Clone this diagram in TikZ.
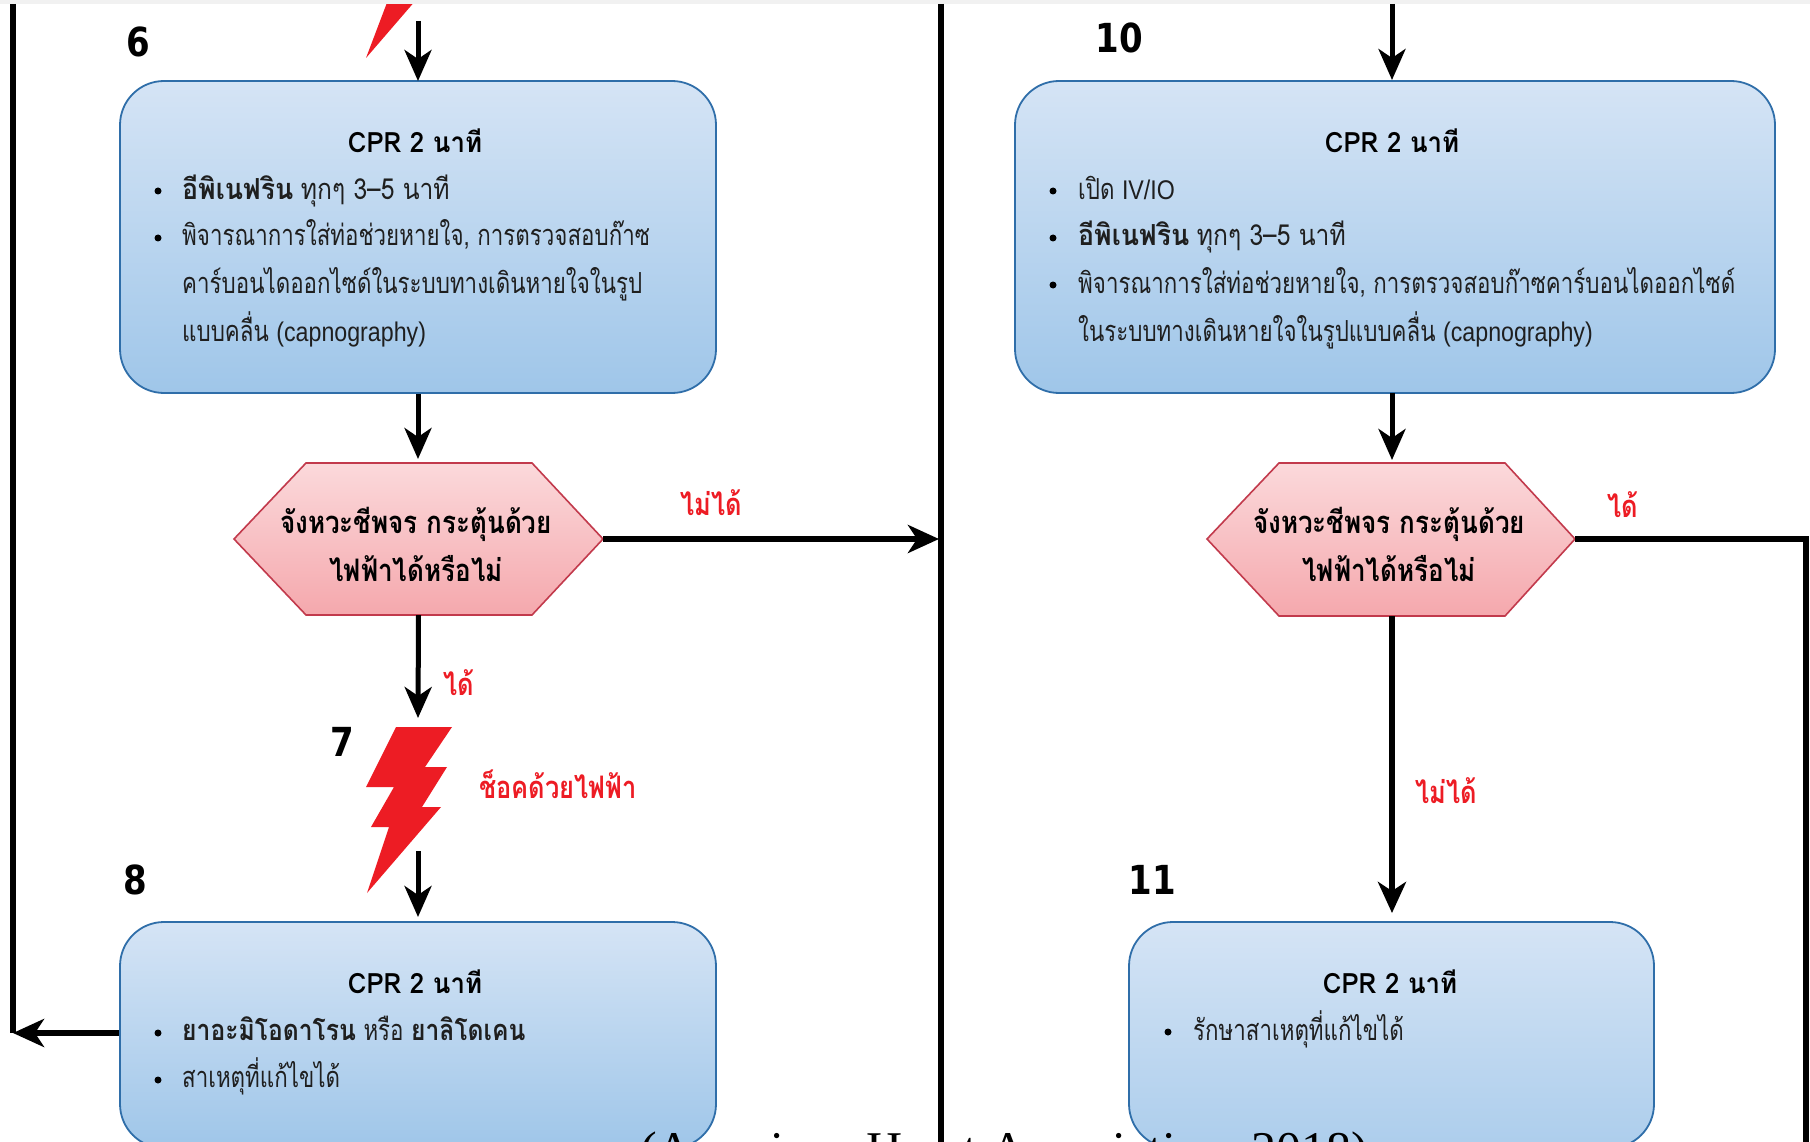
\documentclass[tikz,border=0pt]{standalone}
\usepackage{fontspec}
\usetikzlibrary{arrows.meta,shapes.misc}
\setmainfont{Liberation Sans}
\newfontfamily\bodyfont[Script=Thai,FakeStretch=0.77]{Loma}
\newfontfamily\inlinefont[Script=Thai,FakeStretch=0.92]{Loma}
\newfontfamily\drugfont[Script=Thai,FakeStretch=0.85]{Loma}
\newfontfamily\tailfont[Script=Thai,FakeStretch=0.85]{Loma}
\newfontfamily\titlefont[Script=Thai,FakeStretch=0.92]{Loma}
\newfontfamily\hexfont[Script=Thai,FakeStretch=0.84]{Loma}
\newfontfamily\redfont[Script=Thai,FakeStretch=0.82]{Loma}
\newfontfamily\latfont[FakeStretch=0.86]{Liberation Sans}
\newfontfamily\numfont[FakeStretch=0.85]{DejaVu Sans}
\newfontfamily\serifcite{Liberation Serif}
\newcommand{\lat}[1]{{\fontsize{27}{30}\selectfont\latfont #1}}
\newcommand{\bb}[1]{{\inlinefont\bfseries #1}}
\newcommand{\bd}[1]{{\drugfont\bfseries #1}}
\newcommand{\tl}[1]{{\tailfont #1}}
\tikzset{
  x=1pt,y=-1pt,
  card/.style={rounded corners=44pt,draw=cardedge,line width=1.8pt,top color=cardtop,bottom color=cardbot,minimum width=#1,inner sep=0pt},
  hexfill/.style={draw=hexedge,line width=1.6pt,top color=hextop,bottom color=hexbot},
  anchorbox/.style={inner sep=0pt,minimum width=369pt,minimum height=152pt},
  body/.style={anchor=base west,inner sep=0pt,font=\fontsize{29}{30}\selectfont\bodyfont,text=black!88},
  dot/.style={circle,fill=black,inner sep=0pt,minimum size=7pt},
  title/.style={anchor=base,inner sep=0pt,font=\fontsize{28}{30}\selectfont\titlefont\bfseries},
  hextext/.style={anchor=base,inner sep=0pt,font=\fontsize{31}{32}\selectfont\hexfont\bfseries},
  redlabel/.style={anchor=base,inner sep=0pt,text=bolt,font=\fontsize{31}{32}\selectfont\redfont\bfseries},
  stepnum/.style={anchor=center,inner sep=0pt,font=\fontsize{40}{44}\selectfont\numfont\bfseries},
  flow/.style={line width=5pt,-{Stealth[length=31pt,width=27pt,inset=9pt]}},
  flowbig/.style={line width=5.8pt,-{Stealth[length=31pt,width=28pt,inset=9pt]}},
  rail/.style={line width=5.8pt},
  boltshape/.style={fill=bolt,draw=none}
}
\definecolor{cardtop}{HTML}{D5E4F5}
\definecolor{cardbot}{HTML}{9FC6E9}
\definecolor{cardedge}{HTML}{2F6EA9}
\definecolor{hextop}{HTML}{FBD9DB}
\definecolor{hexbot}{HTML}{F5A8AD}
\definecolor{hexedge}{HTML}{C23A4C}
\definecolor{bolt}{HTML}{ED1C24}
\definecolor{band}{HTML}{F1F1F1}
\begin{document}
\begin{tikzpicture}
\useasboundingbox (0,0) rectangle (1810,1142);
\clip (0,0) rectangle (1810,1142);
\fill[white] (0,0) rectangle (1810,1142);

% upper bolt, cut by the page top
\fill[boltshape] (388,0) -- (416,0) -- (366,58) -- cycle;
\fill[band] (0,0) rectangle (1810,4);

% boxes
\node[card=596pt,minimum height=312pt] (b6) at (418,237) {};
\node[card=760pt,minimum height=312pt] (b10) at (1395,237) {};
\node[card=596pt,minimum height=226pt] (b8) at (418,1035) {};
\node[card=525pt,minimum height=226pt,bottom color=cardbot!75!cardtop] (b11) at (1391.5,1035) {};

% decision hexagons
\path[hexfill] (234,539) -- (306,463) -- (532,463) -- (603,539) -- (532,615) -- (306,615) -- cycle;
\node[anchorbox] (h6) at (418.5,539) {};
\path[hexfill] (1207,539) -- (1279,463) -- (1505,463) -- (1575,539) -- (1505,616) -- (1279,616) -- cycle;
\node[anchorbox,minimum width=368pt] (h10) at (1391,539) {};

% bolt 7
\fill[boltshape] (396,727) -- (452,727) -- (425,767) -- (447,767) -- (422,807) -- (441,807) -- (367,893) -- (389,827) -- (371,827) -- (394,787) -- (366,787) -- cycle;
\node[inner sep=0pt] (b7) at (418,790) {};

% free ends
\coordinate (t6) at (418,21);
\coordinate (t10) at (1392,4);
\coordinate (r7) at (418,851);
\coordinate (ln) at (13,1033);
\coordinate (lt) at (13,4);
\coordinate (mt) at (941,4);
\coordinate (mb) at (941,1142);
\coordinate (mh) at (939,539);
\coordinate (rc) at (1806,539);
\coordinate (rb) at (1806,1142);
\coordinate (s7) at (418,718);
\coordinate (l6t) at (418,81);
\coordinate (l6h) at (418,459);
\coordinate (e8) at (418,917);
\coordinate (t10e) at (1392,80);
\coordinate (b10b) at (1392,393);
\coordinate (h10t) at (1392,460);
\coordinate (h10b) at (1392,616);
\coordinate (e11) at (1392,913);

% rails
\draw[rail] (lt) -- (ln);
\draw[rail] (mt) -- (mb);
\draw[rail,line join=miter] (h10.east) -- (rc) -- (rb);

% connectors
\draw[flow] (t6) -- (l6t);
\draw[flow] (b6.south) -- (l6h);
\draw[flow] (h6.south) -- (s7);
\draw[flow] (r7) -- (e8);
\draw[flowbig] (h6.east) -- (mh);
\draw[flowbig] (b8.west |- ln) -- (ln);
\draw[flow] (t10) -- (t10e);
\draw[flow] (b10b) -- (h10t);
\draw[flowbig] (h10b) -- (e11);

% step numbers
\node[stepnum] (n6) at (138,42) {6};
\node[stepnum] (n10) at (1119,38) {10};
\node[stepnum] (n7) at (342,742) {7};
\node[stepnum] (n8) at (135,880) {8};
\node[stepnum] (n11) at (1152,880) {11};

% box 6
\node[title] (b6t) at (415,153) {CPR 2 นาที};
\node[dot] (b6d1) at (158,191) {};
\node[body] (b6a) at (182,200) {\bb{อีพิเนฟริน} \tl{ทุกๆ 3–5 นาที}};
\node[dot] (b6d2) at (158,238) {};
\node[body] (b6b) at (182,246) {พิจารณาการใส่ท่อช่วยหายใจ, การตรวจสอบก๊าซ};
\node[body] (b6c) at (182,293) {คาร์บอนไดออกไซด์ในระบบทางเดินหายใจในรูป};
\node[body] (b6e) at (182,341) {แบบคลื่น \lat{(capnography)}};

% box 10
\node[title] (b10t) at (1392,153) {CPR 2 นาที};
\node[dot] (b10d1) at (1053,191) {};
\node[body] (b10a) at (1078,200) {เปิด \lat{IV/IO}};
\node[dot] (b10d2) at (1053,238) {};
\node[body] (b10b2) at (1078,246) {\bb{อีพิเนฟริน} \tl{ทุกๆ 3–5 นาที}};
\node[dot] (b10d3) at (1053,285) {};
\node[body] (b10c) at (1078,293) {พิจารณาการใส่ท่อช่วยหายใจ, การตรวจสอบก๊าซคาร์บอนไดออกไซด์};
\node[body] (b10e) at (1078,341) {ในระบบทางเดินหายใจในรูปแบบคลื่น \lat{(capnography)}};

% box 8
\node[title] (b8t) at (415,993) {CPR 2 นาที};
\node[dot] (b8d1) at (158,1033) {};
\node[body] (b8a) at (182,1040) {\bd{ยาอะมิโอดาโรน} {\bodyfont หรือ} \bd{ยาลิโดเคน}};
\node[dot] (b8d2) at (158,1080) {};
\node[body] (b8b) at (182,1087) {สาเหตุที่แก้ไขได้};

% box 11
\node[title] (b11t) at (1390,993) {CPR 2 นาที};
\node[dot] (b11d1) at (1168,1032) {};
\node[body] (b11a) at (1193,1040) {รักษาสาเหตุที่แก้ไขได้};

% hexagon texts
\node[hextext] (h6a) at (416,533) {จังหวะชีพจร กระตุ้นด้วย};
\node[hextext] (h6b) at (416,581) {ไฟฟ้าได้หรือไม่};
\node[hextext] (h10a) at (1389,533) {จังหวะชีพจร กระตุ้นด้วย};
\node[hextext] (h10b2) at (1389,581) {ไฟฟ้าได้หรือไม่};

% red labels
\node[redlabel] (l1) at (711,515) {ไม่ได้};
\node[redlabel] (l2) at (459,695) {ได้};
\node[redlabel] (l3) at (558,798) {ช็อคด้วยไฟฟ้า};
\node[redlabel] (l4) at (1623,517) {ได้};
\node[redlabel] (l5) at (1446,803) {ไม่ได้};

% citation, cut by the page bottom
\node[anchor=base west,inner sep=0pt,font=\fontsize{50}{52}\selectfont\serifcite] (cite) at (640,1166) {(American Heart Association, 2018)};
\end{tikzpicture}
\end{document}
